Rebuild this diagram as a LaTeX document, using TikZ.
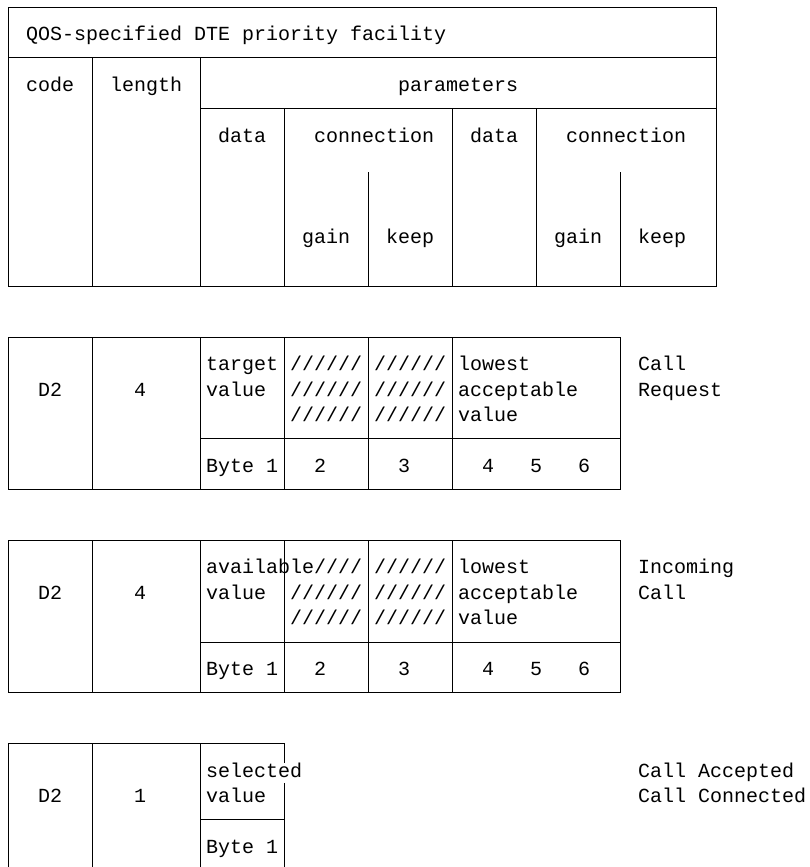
\documentclass[tikz,border=0pt]{standalone}
\usepackage{fontspec}
\setmonofont{Liberation Mono}
\usepackage{tikz}

\tikzset{
	cell/.style={anchor=base west, inner sep=0pt, xshift=-6pt, yshift=-8pt,
		font=\ttfamily\fontsize{20}{24}\selectfont},
	rule/.style={line width=1pt}
}

\begin{document}
\begin{tikzpicture}[x=12pt, y=-25.4pt]
  \useasboundingbox (-0.667,-0.276) rectangle (66.75,33.858);

	% facility layout
	\draw[rule] (0,0) rectangle (59,11);
	\draw[rule] (0,2) -- (59,2);
	\draw[rule] (16,4) -- (59,4);
	\foreach \Col in {7,16}{
		\draw[rule] (\Col,2) -- (\Col,11);
	};
	\foreach \Col in {23,37,44}{
		\draw[rule] (\Col,4) -- (\Col,11);
	};
	\foreach \Col in {30,51}{
		\draw[rule] (\Col,6.5) -- (\Col,11);
	};

	\node[cell] (title) at (2,1) {QOS-specified DTE priority facility};
	\node[cell] (code) at (2,3) {code};
	\node[cell] (length) at (9,3) {length};
	\node[cell] (params) at (33,3) {parameters};
	\node[cell] (data1) at (18,5) {data};
	\node[cell] (conn1) at (26,5) {connection};
	\node[cell] (data2) at (39,5) {data};
	\node[cell] (conn2) at (47,5) {connection};
	\node[cell] (gain1) at (25,9) {gain};
	\node[cell] (keep1) at (32,9) {keep};
	\node[cell] (gain2) at (46,9) {gain};
	\node[cell] (keep2) at (53,9) {keep};

	% call request and incoming call
	\foreach \Top in {13,21}{
		\draw[rule] (0,\Top) rectangle (51,\Top+6);
		\foreach \Col in {7,16,23,30,37}{
			\draw[rule] (\Col,\Top) -- (\Col,\Top+6);
		};
		\draw[rule] (16,\Top+4) -- (51,\Top+4);
		\node[cell] (code\Top) at (3,\Top+2) {D2};
		\node[cell] (len\Top) at (11,\Top+2) {4};
		\node[cell] (low\Top) at (38,\Top+1) {lowest};
		\node[cell] (acc\Top) at (38,\Top+2) {acceptable};
		\node[cell] (val\Top) at (38,\Top+3) {value};
		\node[cell] (byte\Top) at (17,\Top+5) {Byte 1};
		\foreach \Num/\Col in {2/26,3/33,4/40,5/44,6/48}{
			\node[cell] (b\Num-\Top) at (\Col,\Top+5) {\Num};
		};
		\foreach \Row in {1,2,3}{
			\node[cell] (hatch\Row-\Top) at (31,\Top+\Row) {//////};
		};
	};

	\node[cell] (target) at (17,14) {target};
	\node[cell] (tvalue) at (17,15) {value};
	\foreach \Row in {14,15,16}{
		\node[cell] (gap\Row) at (24,\Row) {//////};
	};
	\node[cell] (req1) at (53,14) {Call};
	\node[cell] (req2) at (53,15) {Request};

	\node[cell] (avail) at (17,22) {available////};
	\node[cell] (avalue) at (17,23) {value};
	\foreach \Row in {23,24}{
		\node[cell] (gap\Row) at (24,\Row) {//////};
	};
	\node[cell] (inc1) at (53,22) {Incoming};
	\node[cell] (inc2) at (53,23) {Call};

	% call accepted
	\draw[rule] (0,33.858) -- (0,29) -- (23,29) -- (23,29.75);
	\draw[rule] (23,30.55) -- (23,33.858);
	\foreach \Col in {7,16}{
		\draw[rule] (\Col,29) -- (\Col,33.858);
	};
	\draw[rule] (16,32) -- (23,32);

	\node[cell] (code29) at (3,31) {D2};
	\node[cell] (len29) at (11,31) {1};
	\node[cell] (selected) at (17,30) {selected};
	\node[cell] (svalue) at (17,31) {value};
	\node[cell] (byte29) at (17,33) {Byte 1};
	\node[cell] (acc1) at (53,30) {Call Accepted};
	\node[cell] (acc2) at (53,31) {Call Connected};

\end{tikzpicture}
\end{document}
